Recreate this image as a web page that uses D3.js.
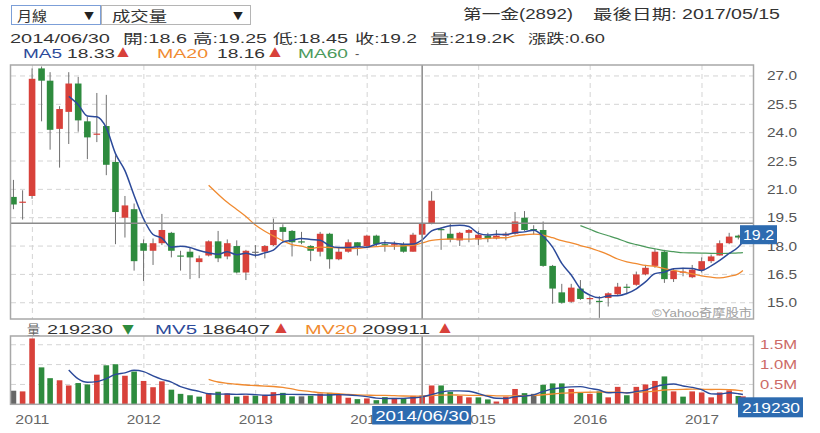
<!DOCTYPE html>
<html><head><meta charset="utf-8">
<script src="https://cdn.jsdelivr.net/npm/d3@7"></script>
<style>body{margin:0;background:#fff}svg{display:block}text{font-family:"Liberation Sans","Noto Sans CJK TC",sans-serif}text.tri{font-family:"Noto Sans CJK TC",sans-serif}</style>
</head><body><svg id="c" width="820" height="433"></svg>
<script>
// ---------- DATA ----------
const months = ["2010-10","2010-11","2010-12",
 "2011-01","2011-02","2011-03","2011-04","2011-05","2011-06","2011-07","2011-08","2011-09","2011-10","2011-11","2011-12",
 "2012-01","2012-02","2012-03","2012-04","2012-05","2012-06","2012-07","2012-08","2012-09","2012-10","2012-11","2012-12",
 "2013-01","2013-02","2013-03","2013-04","2013-05","2013-06","2013-07","2013-08","2013-09","2013-10","2013-11","2013-12",
 "2014-01","2014-02","2014-03","2014-04","2014-05","2014-06","2014-07","2014-08","2014-09","2014-10","2014-11","2014-12",
 "2015-01","2015-02","2015-03","2015-04","2015-05","2015-06","2015-07","2015-08","2015-09","2015-10","2015-11","2015-12",
 "2016-01","2016-02","2016-03","2016-04","2016-05","2016-06","2016-07","2016-08","2016-09","2016-10","2016-11","2016-12",
 "2017-01","2017-02","2017-03","2017-04","2017-05"];
const lastDate = "2017-05-15";
const open  = [20.6,20.3,20.65, 27.4,26.75,24.2,25.1,26.6,24.6,23.9,24.35,22.45,19.5,19.95,18.15,
 17.75,18.15,18.7,17.5,17.7,17.15,17.5,18.25,17.45,18.0,16.6,17.7,
 17.7,18.05,19.0,18.8,18.25,18.0,17.7,18.65,17.3,17.7,18.2,18.0,
 18.55,18.1,18.05,18.05,17.7,18.6,19.2,18.9,18.65,18.3,18.7,18.35,
 18.55,18.4,18.55,18.65,19.5,18.9,18.85,16.95,15.55,15.05,15.75,15.2,
 15.1,15.25,15.45,15.85,15.95,16.5,16.95,17.7,16.25,16.6,16.35,16.72,
 17.2,17.5,18.15,18.55,18.45];
const high  = [21.5,20.95,27.4, 27.5,27.2,25.4,27.2,26.95,24.85,26.1,26.0,22.8,20.65,20.25,18.35,
 18.4,19.7,18.75,17.75,17.9,17.5,18.3,18.8,18.35,18.3,17.8,18.05,
 18.05,19.45,19.15,18.85,18.75,18.05,18.75,18.7,17.95,18.35,18.2,18.6,
 18.6,18.3,18.25,18.2,18.7,19.25,20.9,19.0,19.2,18.75,18.9,18.8,
 18.7,18.85,18.75,19.8,19.85,19.1,19.3,17.0,16.0,16.0,16.2,15.35,
 15.35,15.55,16.05,16.0,16.65,17.0,17.85,17.8,16.8,16.85,17.0,17.4,
 17.55,18.3,18.7,18.6,18.75];
const low   = [19.95,19.4,20.5, 24.6,23.1,22.15,23.4,24.05,22.6,23.5,21.75,18.1,18.45,16.7,16.15,
 17.0,18.05,17.4,16.7,16.25,16.3,17.45,17.15,17.3,16.55,16.2,17.4,
 17.35,18.0,18.2,17.45,18.1,17.2,17.45,16.8,17.25,17.65,17.5,17.95,
 17.95,17.7,17.8,17.65,17.7,18.45,19.15,17.8,18.2,18.0,18.2,18.05,
 18.2,18.35,18.3,18.6,18.8,18.6,16.9,14.95,14.95,15.0,15.15,14.9,
 14.2,14.8,15.4,15.45,15.9,16.45,16.85,16.05,16.1,16.4,16.3,16.6,
 17.1,17.5,18.1,18.35,18.4];
const close = [20.2,20.35,26.85, 26.75,24.15,25.25,26.6,24.65,23.75,23.95,22.3,19.8,20.15,17.2,17.75,
 18.15,18.85,17.75,17.45,17.4,17.35,18.25,17.35,18.15,16.6,17.75,17.7,
 18.0,18.85,18.75,18.2,18.2,17.75,18.65,17.3,17.7,18.2,17.95,18.55,
 18.1,18.05,18.1,17.7,18.6,19.2,20.4,18.85,18.35,18.7,18.85,18.6,
 18.4,18.55,18.65,19.3,18.85,18.85,16.95,15.75,15.0,15.8,15.2,15.25,
 15.05,15.5,15.85,15.8,16.5,16.85,17.7,16.25,16.7,16.65,16.75,17.2,
 17.45,18.15,18.5,18.45,18.6];
const volume = [342000,325000,1658000, 930000,658000,605000,474000,535000,500000,746000,982000,1009000,719000,825000,588000,
 430000,579000,368000,263000,228000,193000,281000,316000,272000,193000,218000,218000,
 235000,306000,288000,200000,200000,218000,271000,288000,235000,165000,130000,148000,
 104000,180000,160000,160000,213000,219230,474000,474000,316000,210000,175000,175000,
 123000,70000,193000,386000,281000,263000,491000,526000,526000,386000,298000,263000,
 325000,175000,439000,228000,439000,500000,588000,702000,325000,193000,325000,298000,
 175000,298000,351000,210000,200000];
const maStart = 2;                       // moving averages are computed from this bar on
const priceTicks = [15.0,16.5,18.0,19.5,21.0,22.5,24.0,25.5,27.0];
const volTicks = [500000,1000000,1500000];
const volTickLabels = ["0.5M","1.0M","1.5M"];
const yearTicks = ["2011","2012","2013","2014","2015","2016","2017"];
const cross = {date:"2014-06-30", label:"2014/06/30", open:"18.6", high:"19.25", low:"18.45", close:"19.2", vol:"219.2K", chg:"0.60",
  ma5:"18.33", ma20:"18.16", ma60:"-", v:"219230", mv5:"186407", mv20:"209911"};
const stock = "第一金(2892)", lastLabel = "最後日期: 2017/05/15";

// ---------- SETUP ----------
const RED="#d8413a", GREEN="#2e8b3e", GRAY="#777", BLUE="#2c4a9a", ORANGE="#f08a30", MGREEN="#4c9a5c", BOX="#2d6bb0";
const svg = d3.select("#c");
const dates = months.map((m,i)=>{ if(i===months.length-1) return new Date(lastDate+"T00:00:00");
  const [yy,mm]=m.split("-").map(Number); return new Date(yy,mm,0); });
const L=11, R=753, mT=65, mB=319, vT=336, vB=404.3;
const x = d3.scaleTime().domain([new Date(2010,9,23), new Date(2017,5,17)]).range([L,R]);
const y = d3.scaleLinear().domain([14.14,27.58]).range([mB,mT]);
const yv = d3.scaleLinear().domain([0,1720000]).range([vB,vT]);

function T(sel,xx,yy,s,o={}){
  const t=sel.append("text").attr("x",xx).attr("y",yy).text(s)
    .attr("font-size",o.size||13).attr("fill",o.fill||"#333").attr("text-anchor",o.anchor||"start");
  if(o.w) t.attr("textLength",o.w).attr("lengthAdjust","spacingAndGlyphs");
  if(o.cls) t.attr("class",o.cls);
  return t;
}
function ma(arr,n){ return arr.map((_,i)=> i < maStart+n-1 ? null : d3.mean(arr.slice(i-n+1,i+1))); }

// ---------- HEADER ----------
svg.append("rect").attr("x",11.5).attr("y",5.5).attr("width",89).attr("height",19).attr("fill","#fff").attr("stroke","#7c9fd8");
svg.append("rect").attr("x",101.5).attr("y",5.5).attr("width",149).attr("height",19).attr("fill","#fff").attr("stroke","#b5b5b5");
T(svg,17,21,"月線",{w:30,size:14,fill:"#333"});
T(svg,84,20,"▼",{size:10,fill:"#222",cls:"tri"});
T(svg,112,21,"成交量",{w:55,size:14,fill:"#333"});
T(svg,233,20,"▼",{size:10,fill:"#222",cls:"tri"});
T(svg,463,19,stock,{w:110,size:14});
T(svg,593,19,lastLabel,{w:187,size:14});
const l2=43;
T(svg,10,l2,cross.label,{w:100});
T(svg,123,l2,"開:"+cross.open,{w:64});
T(svg,193,l2,"高:"+cross.high,{w:74});
T(svg,273,l2,"低:"+cross.low,{w:75});
T(svg,355,l2,"收:"+cross.close,{w:62});
T(svg,430,l2,"量:"+cross.vol,{w:85});
T(svg,528,l2,"漲跌:"+cross.chg,{w:77});
const l3=58;
T(svg,23,l3,"MA5",{w:39,fill:BLUE});
T(svg,67,l3,cross.ma5,{w:48});
T(svg,117,l3,"▲",{size:12,fill:RED,cls:"tri"});
T(svg,157,l3,"MA20",{w:51,fill:ORANGE});
T(svg,217,l3,cross.ma20,{w:48});
T(svg,269,l3,"▲",{size:12,fill:RED,cls:"tri"});
T(svg,298,l3,"MA60",{w:50,fill:MGREEN});
T(svg,355,l3,cross.ma60,{fill:"#555"});

// ---------- MAIN PANEL ----------
const gm = svg.append("g");
gm.selectAll(".hg").data(priceTicks).join("line").attr("x1",L).attr("x2",R)
  .attr("y1",d=>y(d)).attr("y2",d=>y(d)).attr("stroke","#d4d4d4").attr("stroke-dasharray","5,4");
const yearDates = yearTicks.map(s=>new Date(+s,0,1));
gm.selectAll(".vg").data(yearDates).join("line").attr("y1",mT).attr("y2",mB)
  .attr("x1",d=>x(d)).attr("x2",d=>x(d)).attr("stroke","#d4d4d4").attr("stroke-dasharray","5,4");
priceTicks.forEach(p=>T(svg,767,y(p)+4.5,p.toFixed(1),{w:30,fill:"#555"}));

const cw=6.6;
const cg = gm.append("g");
dates.forEach((d,i)=>{
  const cx=x(d), o=open[i], c=close[i];
  const col = c>o?RED:(c<o?GREEN:GRAY);
  cg.append("line").attr("x1",cx).attr("x2",cx).attr("y1",y(high[i])).attr("y2",y(low[i])).attr("stroke","#6f6f6f").attr("stroke-width",1);
  const top=y(Math.max(o,c)), bot=y(Math.min(o,c));
  cg.append("rect").attr("x",cx-cw/2).attr("y",top).attr("width",cw).attr("height",Math.max(1.2,bot-top)).attr("fill",col);
});
const line = d3.line().defined(d=>d[1]!=null).x(d=>x(d[0])).y(d=>y(d[1])).curve(d3.curveMonotoneX);
[[ma(close,60),MGREEN,1.2],[ma(close,20),ORANGE,1.3],[ma(close,5),BLUE,1.5]].forEach(([arr,col,w])=>{
  gm.append("path").attr("d",line(dates.map((d,i)=>[d,arr[i]]))).attr("fill","none").attr("stroke",col).attr("stroke-width",w);
});
T(svg,752,317,"©Yahoo奇摩股市",{w:100,size:11,fill:"#a0a0a0",anchor:"end"});

// crosshair
const cd = new Date(cross.date+"T00:00:00"), cc = +cross.close;
gm.append("line").attr("x1",L).attr("x2",R).attr("y1",y(cc)).attr("y2",y(cc)).attr("stroke","#8a8a8a").attr("stroke-width",1.5);
gm.append("line").attr("x1",x(cd)).attr("x2",x(cd)).attr("y1",mT).attr("y2",mB).attr("stroke","#8a8a8a").attr("stroke-width",1.5);
gm.append("rect").attr("x",L-0.5).attr("y",mT).attr("width",R-L+1).attr("height",mB-mT).attr("fill","none").attr("stroke","#a8a8a8").attr("stroke-width",1.5);

// ---------- VOLUME PANEL ----------
const vl=334;
T(svg,27,vl,"量",{w:13,fill:"#666"});
T(svg,47,vl,cross.v,{w:66});
T(svg,122,vl,"▼",{size:12,fill:GREEN,cls:"tri"});
T(svg,155,vl,"MV5",{w:42,fill:BLUE});
T(svg,202,vl,cross.mv5,{w:68});
T(svg,275,vl,"▲",{size:12,fill:RED,cls:"tri"});
T(svg,305,vl,"MV20",{w:52,fill:ORANGE});
T(svg,362,vl,cross.mv20,{w:68});
T(svg,439,vl,"▲",{size:12,fill:RED,cls:"tri"});

const gv = svg.append("g");
gv.selectAll(".hg").data(volTicks).join("line").attr("x1",L).attr("x2",R)
  .attr("y1",d=>yv(d)).attr("y2",d=>yv(d)).attr("stroke","#d4d4d4").attr("stroke-dasharray","5,4");
gv.selectAll(".vg").data(yearDates).join("line").attr("y1",vT).attr("y2",vB)
  .attr("x1",d=>x(d)).attr("x2",d=>x(d)).attr("stroke","#d4d4d4").attr("stroke-dasharray","5,4");
volTicks.forEach((v,i)=>T(svg,760,yv(v)+4.5,volTickLabels[i],{w:37,fill:"#cc6a66"}));
const bw=5.6;
dates.forEach((d,i)=>{
  const col = i===0?"#666":(close[i]>close[i-1]?RED:(close[i]<close[i-1]?GREEN:"#666"));
  gv.append("rect").attr("x",x(d)-bw/2).attr("y",yv(volume[i])).attr("width",bw).attr("height",vB-yv(volume[i])).attr("fill",col);
});
const vline = d3.line().defined(d=>d[1]!=null).x(d=>x(d[0])).y(d=>yv(d[1])).curve(d3.curveMonotoneX);
[[ma(volume,20),ORANGE,1.3],[ma(volume,5),BLUE,1.4]].forEach(([arr,col,w])=>{
  gv.append("path").attr("d",vline(dates.map((d,i)=>[d,arr[i]]))).attr("fill","none").attr("stroke",col).attr("stroke-width",w);
});
gv.append("line").attr("x1",x(cd)).attr("x2",x(cd)).attr("y1",vT).attr("y2",vB).attr("stroke","#8a8a8a").attr("stroke-width",1.5);
gv.append("rect").attr("x",L-0.5).attr("y",vT).attr("width",R-L+1).attr("height",vB-vT).attr("fill","none").attr("stroke","#a8a8a8").attr("stroke-width",1.5);

// x axis labels
yearDates.forEach((d,i)=>T(svg,x(d),424,yearTicks[i],{w:34,fill:"#666",anchor:"middle"}));

// ---------- VALUE BOXES ----------
const ly = y(close[close.length-1]);
svg.append("rect").attr("x",740).attr("y",ly-9.5).attr("width",37).attr("height",19).attr("fill",BOX);
T(svg,743,ly+5.5,cross.close,{w:31,size:15,fill:"#fff"});
svg.append("rect").attr("x",738).attr("y",vB-7).attr("width",65).attr("height",20).attr("fill",BOX);
T(svg,742,vB+8.5,cross.v,{w:58,size:15,fill:"#fff"});
svg.append("rect").attr("x",x(cd)-50).attr("y",406).attr("width",99).attr("height",18.5).attr("fill",BOX);
T(svg,x(cd),421,cross.label,{w:94,size:14,fill:"#fff",anchor:"middle"});
</script></body></html>
